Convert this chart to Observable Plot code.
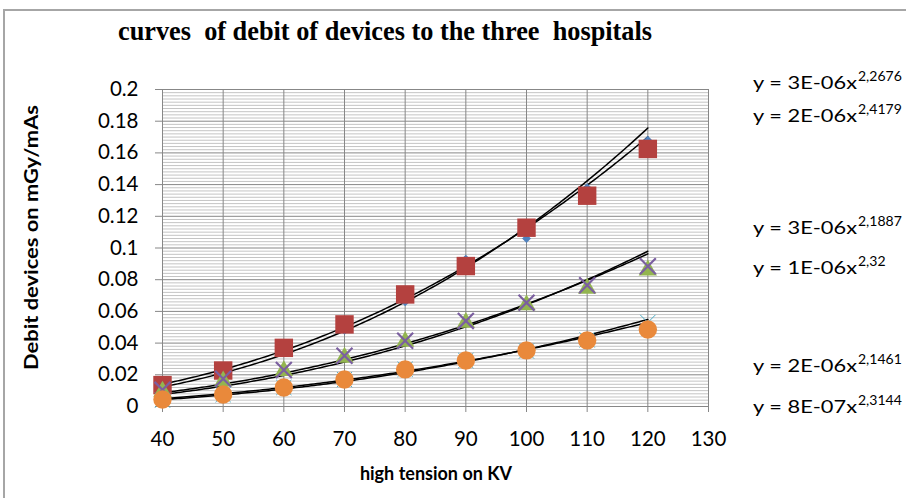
<!DOCTYPE html>
<html>
<head>
<meta charset="utf-8">
<script src="https://cdn.jsdelivr.net/npm/d3@7"></script>
<script src="https://cdn.jsdelivr.net/npm/@observablehq/plot@0.6"></script>
<style>
  html, body { margin: 0; padding: 0; background: #fff; }
  #chart { position: relative; width: 906px; height: 498px; overflow: hidden; background: #fff; }
  #border { position: absolute; left: 3px; top: 9px; width: 960px; height: 560px; border: 2px solid #a6a6a6; box-sizing: border-box; }
  #chart svg { position: absolute; left: 0; top: 0; }
  #overlay { pointer-events: none; }
</style>
</head>
<body>
<div id="chart"><div id="border"></div></div>
<script>
// ---- data ----
const kv = [40, 50, 60, 70, 80, 90, 100, 110, 120];
const h1Diamond = [0.0125, 0.021, 0.034, 0.048, 0.066, 0.093, 0.106, 0.138, 0.168];
const h1Square  = [0.0135, 0.0227, 0.037, 0.0518, 0.0707, 0.0886, 0.1128, 0.133, 0.1625];
const h2Triangle = [0.0095, 0.0160, 0.0225, 0.031, 0.041, 0.053, 0.064, 0.0745, 0.086];
const h2Cross    = [0.0105, 0.0175, 0.023, 0.032, 0.0415, 0.054, 0.0655, 0.0765, 0.0885];
const h3Star   = [0.0040, 0.0075, 0.012, 0.017, 0.0235, 0.029, 0.035, 0.042, 0.053];
const h3Circle = [0.0044, 0.0076, 0.012, 0.017, 0.0234, 0.029, 0.0354, 0.0417, 0.0486];

// power trendlines y = a * x^b (exponents from the labels, coefficients estimated from the drawn curves)
const trendCoef = [3.28e-6, 1.65e-6, 2.71e-6, 1.47e-6, 1.83e-6, 8.47e-7];
const trendExp  = [2.2676, 2.4179, 2.1887, 2.32, 2.1461, 2.3144];
const eqCoefText = ["3E-06", "2E-06", "3E-06", "1E-06", "2E-06", "8E-07"];
const eqExpText  = ["2,2676", "2,4179", "2,1887", "2,32", "2,1461", "2,3144"];

const xTicks = [40, 50, 60, 70, 80, 90, 100, 110, 120, 130];
const yTicks = [0, 0.02, 0.04, 0.06, 0.08, 0.1, 0.12, 0.14, 0.16, 0.18, 0.2];
const yTickLabels = ["0", "0.02", "0.04", "0.06", "0.08", "0.1", "0.12", "0.14", "0.16", "0.18", "0.2"];

const titleText = "curves  of debit of devices to the three  hospitals";
const xLabel = "high tension on KV";
const yLabel = "Debit devices on mGy/mAs";

// ---- build tables ----
const pts = arr => kv.map((x, i) => ({x, y: arr[i]}));
const minorY = d3.range(1, 100).filter(i => i % 10 !== 0).map(i => i * 0.002);
const xFine = d3.range(40, 120.25, 0.5);
const trendRows = [];
trendCoef.forEach((a, k) => {
  xFine.forEach(x => trendRows.push({k, x, y: a * Math.pow(x, trendExp[k])}));
});

const plot = Plot.plot({
  width: 906,
  height: 498,
  marginLeft: 162,
  marginRight: 198,
  marginTop: 89,
  marginBottom: 92,
  x: {domain: [40, 130]},
  y: {domain: [0, 0.2]},
  style: {background: "transparent", fontFamily: "Lato, sans-serif", color: "#000"},
  marks: [
    Plot.ruleY(minorY, {stroke: "#c4c4c4", strokeWidth: 1}),
    Plot.ruleY(yTicks, {stroke: "#878787"}),
    Plot.ruleX(xTicks, {stroke: "#878787"}),
    Plot.frame({stroke: "#878787"}),
    Plot.axisY(yTicks, {tickFormat: d => yTickLabels[yTicks.indexOf(d)], tickSize: 7, tickPadding: 17, stroke: "#878787", fill: "#000", fontSize: 20.5, label: null}),
    Plot.axisX(xTicks, {tickFormat: d => String(d), tickSize: 6, tickPadding: 19, stroke: "#878787", fill: "#000", fontSize: 20.5, label: null}),
    Plot.line(trendRows, {x: "x", y: "y", z: "k", stroke: "#000", strokeWidth: 1.5}),
    Plot.dot(pts(h1Diamond), {x: "x", y: "y", symbol: "diamond2", r: 4, fill: "#4f81bd", stroke: "none"}),
    Plot.dot(pts(h1Square), {x: "x", y: "y", symbol: "square", r: 10.4, fill: "#b4413f", stroke: "none"}),
    Plot.dot(pts(h2Triangle), {x: "x", y: "y", symbol: "triangle", r: 6.8, fill: "#93b550", stroke: "none"}),
    Plot.dot(pts(h2Cross), {x: "x", y: "y", symbol: "times", r: 7.3, stroke: "#7b5fa0", strokeWidth: 2.2}),
    Plot.dot(pts(h3Star), {x: "x", y: "y", symbol: "times", r: 7.0, stroke: "#4bacc6", strokeWidth: 1}),
    Plot.dot(pts(h3Circle), {x: "x", y: "y", symbol: "circle", r: 9.2, fill: "#e9893b", stroke: "none"})
  ]
});
document.getElementById("chart").appendChild(plot);

// ---- text overlay: title, axis titles, trendline equations ----
const svg = d3.select("#chart").append("svg").attr("id", "overlay").attr("width", 906).attr("height", 498);
svg.append("text")
  .attr("x", 118).attr("y", 40)
  .attr("textLength", 534).attr("lengthAdjust", "spacingAndGlyphs")
  .style("font-family", "'Liberation Serif', 'Times New Roman', serif")
  .style("font-weight", "bold").style("font-size", "27px").style("white-space", "pre")
  .text(titleText);
svg.append("text")
  .attr("x", 436).attr("y", 480).attr("text-anchor", "middle")
  .style("font-family", "Lato, sans-serif").style("font-weight", "bold").style("font-size", "18px")
  .text(xLabel);
svg.append("text")
  .attr("transform", "translate(38,370) rotate(-90)")
  .attr("textLength", 265).attr("lengthAdjust", "spacingAndGlyphs")
  .style("font-family", "Lato, sans-serif").style("font-weight", "bold").style("font-size", "18px")
  .text(yLabel);

const eqBase = [89, 122, 234, 274, 372, 413];
eqCoefText.forEach((c, i) => {
  svg.append("text")
    .attr("x", 753).attr("y", eqBase[i])
    .attr("textLength", 104).attr("lengthAdjust", "spacingAndGlyphs")
    .style("font-family", "Lato, sans-serif").style("font-size", "18px")
    .text("y = " + c + "x");
  svg.append("text")
    .attr("x", 858).attr("y", eqBase[i] - 8)
    .style("font-family", "Lato, sans-serif").style("font-size", "14px")
    .text(eqExpText[i]);
});
</script>
</body>
</html>
